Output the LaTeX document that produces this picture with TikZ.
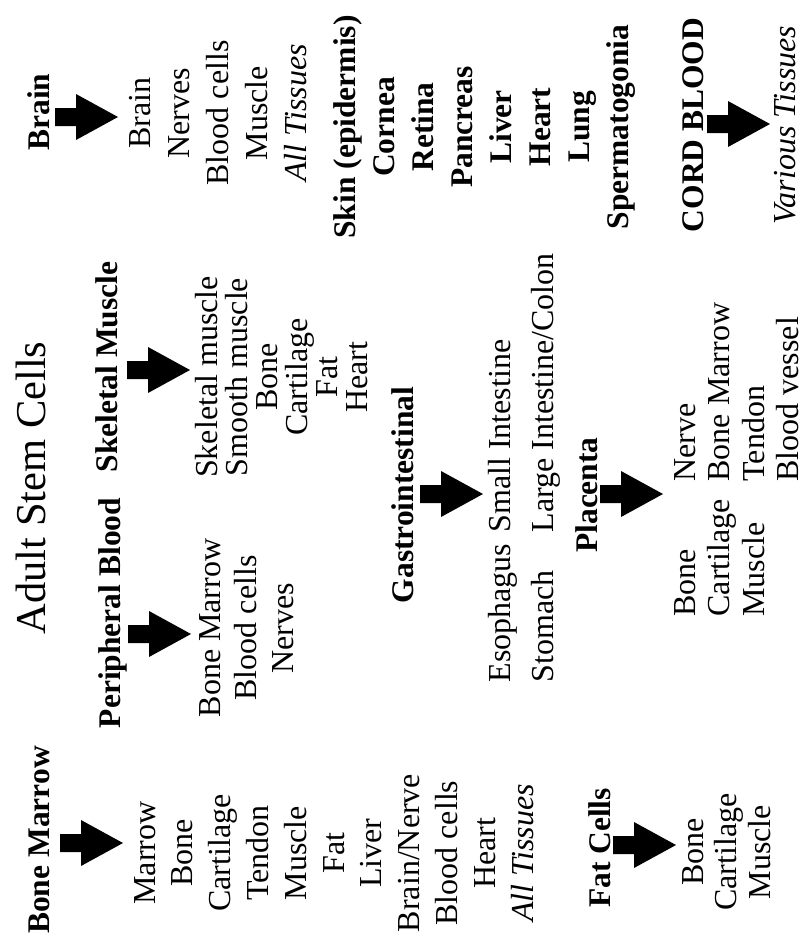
\documentclass[tikz,border=0pt]{standalone}
\usepackage{fontspec}
\setmainfont{Liberation Serif}
\begin{document}
\begin{tikzpicture}[
    x=0.4pt, y=-0.4pt,
    item/.style={font=\fontsize{12.8}{15}\selectfont, inner sep=0pt, rotate=90, anchor=base},
    head/.style={font=\fontsize{12.6}{15}\selectfont\bfseries, inner sep=0pt, rotate=90, anchor=base},
    bigarrow/.pic={\fill (0,-9) -- (21,-9) -- (21,-23) -- (63,0) -- (21,23) -- (21,9) -- (0,9) -- cycle;},
  ]
    \useasboundingbox (0,0) rectangle (802,947);
    % Title
    \node[item, font=\fontsize{17}{20}\selectfont] (title) at (45,488) {Adult Stem Cells};

    % Brain
    \node[head] (brain) at (50,112) {Brain};
    \coordinate (brainarr) at (55,117);
    \pic at (brainarr) {bigarrow};
    \foreach \t [count=\i from 0] in {Brain, Nerves, Blood cells, Muscle, \textit{All Tissues}}
      \node[item] (brain\i) at ({150+39*\i},113) {\t};
    % other tissues (bold)
    \foreach \t [count=\i from 0] in {Skin (epidermis), Cornea, Retina, Pancreas, Liver, Heart, Lung, Spermatogonia}
      \node[head] (tis\i) at ({355+39*\i},127) {\t};

    % Cord blood
    \node[head] (cord) at (703,125) {CORD BLOOD};
    \coordinate (cordarr) at (707,124);
    \pic at (cordarr) {bigarrow};
    \node[item] (cordt) at (795,125) {\textit{Various Tissues}};

    % Skeletal Muscle
    \node[head] (skel) at (117,367) {Skeletal Muscle};
    \coordinate (skelarr) at (127,370);
    \pic at (skelarr) {bigarrow};
    \foreach \t [count=\i from 0] in {Skeletal muscle, Smooth muscle, Bone, Cartilage, Fat, Heart}
      \node[item] (skel\i) at ({217+30*\i},377) {\t};

    % Peripheral Blood
    \node[head] (peri) at (120,613) {Peripheral Blood};
    \coordinate (periarr) at (128,634);
    \pic at (periarr) {bigarrow};
    \foreach \t [count=\i from 0] in {Bone Marrow, Blood cells, Nerves}
      \node[item] (peri\i) at ({220+36.5*\i},628) {\t};

    % Bone Marrow
    \node[head] (bm) at (50,840) {Bone Marrow};
    \coordinate (bmarr) at (60,843);
    \pic at (bmarr) {bigarrow};
    \foreach \t [count=\i from 0] in {Marrow, Bone, Cartilage, Tendon, Muscle, Fat, Liver, Brain/Nerve, Blood cells, Heart, \textit{All Tissues}}
      \node[item] (bm\i) at ({155+37.8*\i},853) {\t};

    % Gastrointestinal
    \node[head] (gi) at (413,495) {Gastrointestinal};
    \coordinate (giarr) at (420,494);
    \pic at (giarr) {bigarrow};
    \node[item, anchor=base west] (gi0) at (510,683) {Esophagus};
    \node[item, anchor=base west] (gi1) at (553,683) {Stomach};
    \node[item, anchor=base west] (gi2) at (510,533) {Small Intestine};
    \node[item, anchor=base west] (gi3) at (553,533) {Large Intestine/Colon};

    % Placenta
    \node[head] (plac) at (597,495) {Placenta};
    \coordinate (placarr) at (600,494);
    \pic at (placarr) {bigarrow};
    \foreach \t [count=\i from 0] in {Bone, Cartilage, Muscle}
      \node[item, anchor=base west] (placa\i) at ({695+34.5*\i},617) {\t};
    \foreach \t [count=\i from 0] in {Nerve, Bone Marrow, Tendon, Blood vessel}
      \node[item, anchor=base west] (placb\i) at ({695+34.5*\i},482) {\t};

    % Fat Cells
    \node[head] (fat) at (610,848) {Fat Cells};
    \coordinate (fatarr) at (613,845);
    \pic at (fatarr) {bigarrow};
    \foreach \t [count=\i from 0] in {Bone, Cartilage, Muscle}
      \node[item] (fat\i) at ({703+33.5*\i},852) {\t};
  \end{tikzpicture}
\end{document}
